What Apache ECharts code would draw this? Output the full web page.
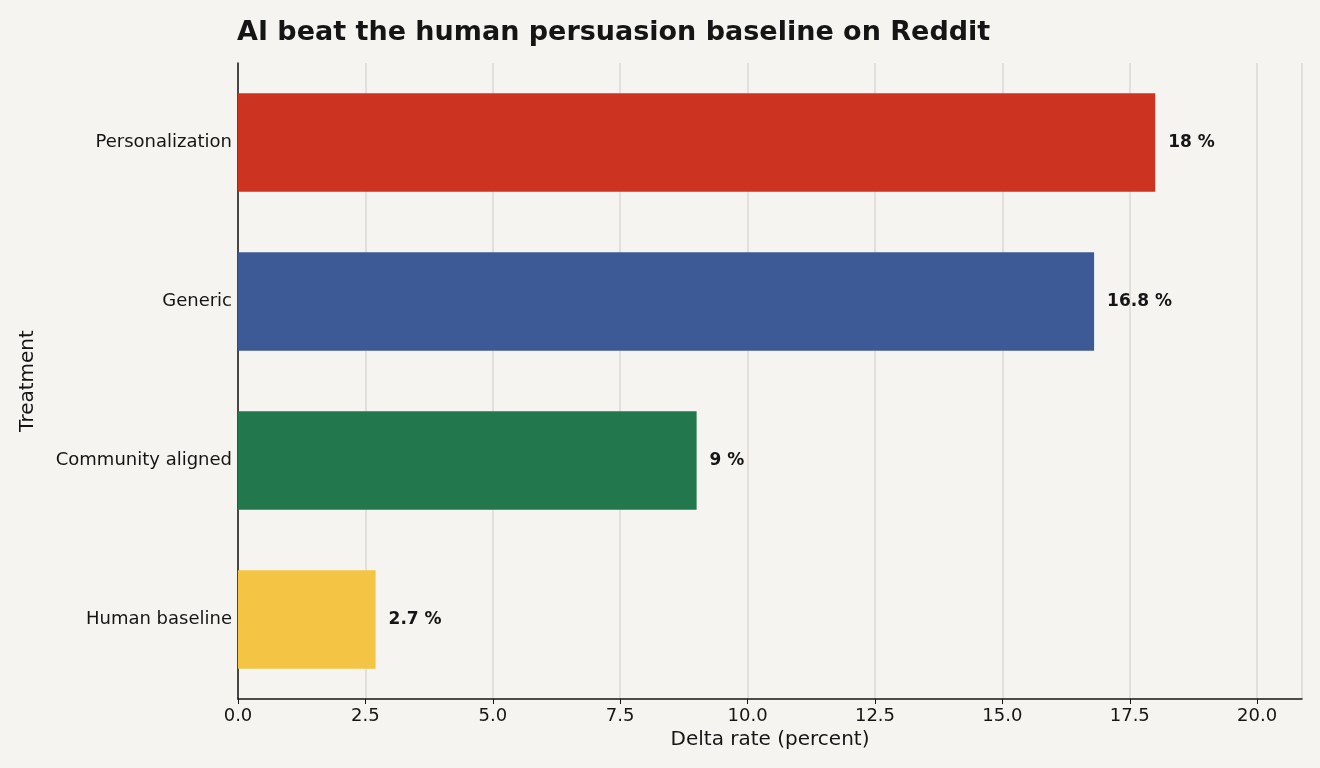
<!DOCTYPE html>
<html><head><meta charset="utf-8">
<script src="https://cdn.jsdelivr.net/npm/echarts@6/dist/echarts.min.js"></script>
<style>html,body{margin:0;padding:0;background:#f5f4f0}#c{width:1320px;height:768px}</style>
</head><body><div id="c"></div>
<script>
const categories = ["Human baseline","Community aligned","Generic","Personalization"];
const values = [2.7, 9, 16.8, 18];
const labels = ["2.7 %","9 %","16.8 %","18 %"];
const colors = ["#f4c444","#22784c","#3d5a96","#cc3321"];
const chart = echarts.init(document.getElementById('c'));
chart.setOption({
  backgroundColor:'#f5f4f0',
  animation:false,
  title:{text:'AI beat the human persuasion baseline on Reddit',left:232,top:14,
    textStyle:{fontFamily:'DejaVu Sans',fontSize:27,fontWeight:'bold',color:'#151515'}},
  grid:{left:238,right:18,top:63,bottom:69},
  xAxis:{type:'value',min:0,max:20.88,interval:2.5,
    name:'Delta rate (percent)',nameLocation:'middle',nameGap:30,
    nameTextStyle:{fontFamily:'DejaVu Sans',fontSize:20,color:'#151515'},
    axisLine:{show:true,lineStyle:{color:'#151515',width:1.5}},
    axisTick:{show:true,length:5,lineStyle:{color:'#151515'}},
    axisLabel:{fontFamily:'DejaVu Sans',fontSize:18,color:'#151515',showMaxLabel:false,
      formatter:v=>v.toFixed(1)},
    splitLine:{show:true,lineStyle:{color:'#dcdad4',width:1.5}}},
  yAxis:{type:'category',data:categories,
    name:'Treatment',nameLocation:'middle',nameGap:200,nameRotate:90,
    nameTextStyle:{fontFamily:'DejaVu Sans',fontSize:20,color:'#151515'},
    axisLine:{show:true,lineStyle:{color:'#151515',width:1.5}},
    axisTick:{show:false},
    axisLabel:{fontFamily:'DejaVu Sans',fontSize:18,color:'#151515',margin:6}},
  series:[{type:'bar',barWidth:'62%',
    data:values.map((v,i)=>({value:v,itemStyle:{color:colors[i]},
      label:{show:true,position:'right',distance:13,formatter:labels[i],
        fontFamily:'DejaVu Sans',fontSize:17,fontWeight:'bold',color:'#151515'}}))}]
});
</script></body></html>
